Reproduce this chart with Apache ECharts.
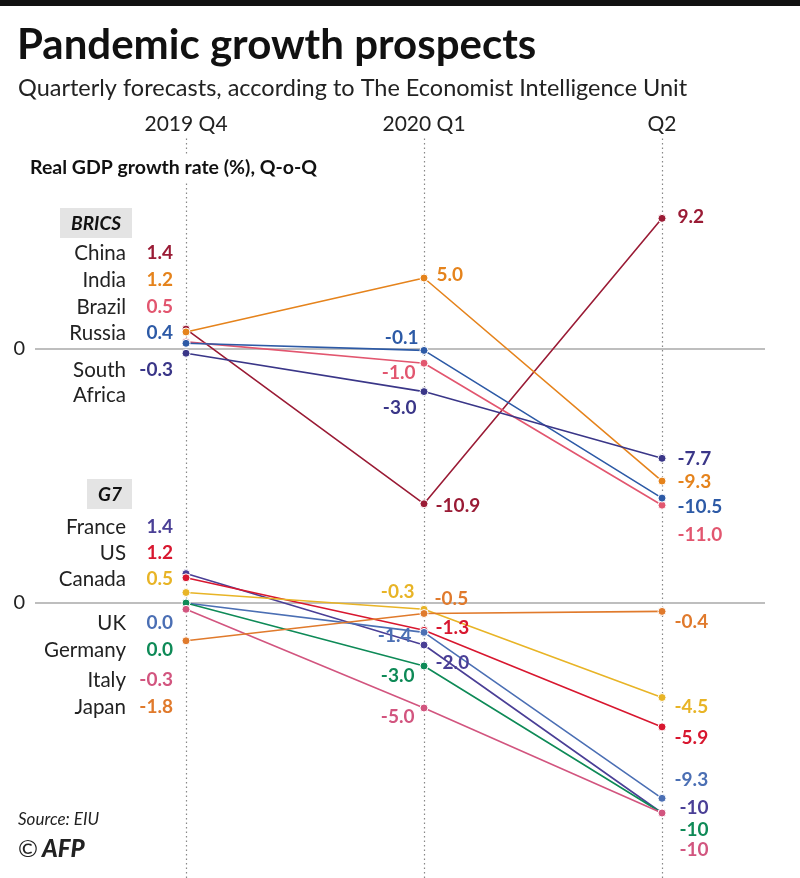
<!DOCTYPE html>
<html>
<head>
<meta charset="utf-8">
<script src="https://cdn.jsdelivr.net/npm/echarts@6/dist/echarts.min.js"></script>
<style>
  html, body { margin: 0; padding: 0; background: #fff; }
  #main { width: 800px; height: 878px; }
</style>
</head>
<body>
<div id="main"></div>
<script>
// 季度
var quarters = ['2019 Q4', '2020 Q1', 'Q2'];

// BRICS 数据 (2019 Q4, 2020 Q1, Q2)
var bricsNames = ['China', 'India', 'Brazil', 'Russia', 'South\nAfrica'];
var china = [1.4, -10.9, 9.2];
var india = [1.2, 5.0, -9.3];
var brazil = [0.5, -1.0, -11.0];
var russia = [0.4, -0.1, -10.5];
var southAfrica = [-0.3, -3.0, -7.7];

// G7 数据
var g7Names = ['France', 'US', 'Canada', 'UK', 'Germany', 'Italy', 'Japan'];
var france = [1.4, -2.0, -10];
var us = [1.2, -1.3, -5.9];
var canada = [0.5, -0.3, -4.5];
var uk = [0.0, -1.4, -9.3];
var germany = [0.0, -3.0, -10];
var italy = [-0.3, -5.0, -10];
var japan = [-1.8, -0.5, -0.4];

var bricsValues = [china, india, brazil, russia, southAfrica];
var g7Values = [france, us, canada, uk, germany, italy, japan];

// 颜色
var bricsColors = ['#9a1b35', '#e5831c', '#e2566f', '#2d5aa6', '#3a3688'];
var g7Colors = ['#4a3f96', '#d8172f', '#e8b426', '#4b6fb4', '#0e8a57', '#d2557f', '#e07a2c'];

// 标签位置 [Q1, Q2]: [side, dx, dy]
var bricsSpots = [
    [['right', 2, 2], ['right', 6, -1]],
    [['right', 3, -3], ['right', 6, 1]],
    [['left', 1, 10], ['right', 6, 30]],
    [['left', 4, -13], ['right', 6, 9]],
    [['left', 2, 16], ['right', 6, 1]]
];
var g7Spots = [
    [['right', 2, 18], ['right', 8, -5]],
    [['right', 2, -2], ['right', 3, 11]],
    [['left', 0, -17], ['right', 3, 9]],
    [['left', -3, 3], ['right', 3, -18]],
    [['left', 0, 10], ['right', 8, 17]],
    [['left', 0, 9], ['right', 8, 37]],
    [['right', 1, -15], ['right', 3, 10]]
];

// 左侧文字的纵向位置
var bricsRowY = [253, 280, 307, 333, 370];
var g7RowY = [527, 553, 579, 623, 650, 680, 707];

var FONT = 'Lato, sans-serif';
var X_MIN = -0.6345, X_MAX = 2.4327;

function fmt(v, panel) {
    if (panel === 'g7' && Math.abs(v) >= 10) {
        return String(Math.round(v));
    }
    return v.toFixed(1);
}

function makeSeries(name, vals, color, idx, spots, panel) {
    return {
        type: 'line',
        name: name,
        xAxisIndex: idx,
        yAxisIndex: idx,
        data: vals.map(function (v, i) {
            var item = { value: [i, v] };
            if (i > 0) {
                var s = spots[i - 1];
                item.label = { show: true, position: s[0], offset: [s[1], s[2]] };
            }
            return item;
        }),
        symbol: 'circle',
        symbolSize: 8,
        color: color,
        lineStyle: { width: 1.6, color: color },
        itemStyle: { color: color, borderColor: '#fff', borderWidth: 1 },
        label: {
            show: false,
            fontFamily: FONT,
            fontWeight: 'bold',
            fontSize: 19,
            color: color,
            formatter: function (p) { return fmt(p.value[1], panel); }
        },
        emphasis: { disabled: true },
        z: 5
    };
}

function zeroLine(idx) {
    return {
        type: 'line',
        xAxisIndex: idx,
        yAxisIndex: idx,
        data: [],
        markLine: {
            silent: true,
            symbol: 'none',
            lineStyle: { color: '#a8a8a8', width: 1.5, type: 'solid' },
            label: { position: 'start', distance: 10, formatter: '0', fontFamily: FONT, fontSize: 20, color: '#222' },
            data: [{ yAxis: 0 }]
        },
        z: 1
    };
}

var series = [];

// 竖向虚线 + 季度标题
series.push({
    type: 'line',
    xAxisIndex: 2,
    yAxisIndex: 2,
    data: [],
    markLine: {
        silent: true,
        symbol: 'none',
        lineStyle: { color: '#888', width: 1.2, type: [1.5, 3] },
        label: {
            position: 'end',
            distance: 3,
            fontFamily: FONT,
            fontSize: 21,
            color: '#222',
            formatter: function (p) { return p.name; }
        },
        data: quarters.map(function (q, i) { return { xAxis: i, name: q }; })
    },
    z: 1
});
series.push(zeroLine(0));
series.push(zeroLine(1));

bricsNames.forEach(function (n, i) {
    series.push(makeSeries(n, bricsValues[i], bricsColors[i], 0, bricsSpots[i], 'brics'));
});
g7Names.forEach(function (n, i) {
    series.push(makeSeries(n, g7Values[i], g7Colors[i], 1, g7Spots[i], 'g7'));
});

// 标题、注释和左侧国家名
var graphics = [
    { type: 'rect', shape: { x: 0, y: 0, width: 800, height: 6 }, style: { fill: '#111' } },
    { type: 'text', x: 17, y: 45, style: { text: 'Pandemic growth prospects', font: 'bold 42px ' + FONT, fill: '#111', verticalAlign: 'middle' } },
    { type: 'text', x: 18, y: 88, style: { text: 'Quarterly forecasts, according to The Economist Intelligence Unit', font: '23.5px ' + FONT, fill: '#222', verticalAlign: 'middle' } },
    { type: 'text', x: 28, y: 168, z: 100, style: { text: 'Real GDP growth rate (%), Q-o-Q', font: 'bold 19.5px ' + FONT, fill: '#111', verticalAlign: 'middle', backgroundColor: '#fff', padding: [4, 2] } },
    { type: 'rect', shape: { x: 60, y: 208, width: 72, height: 30 }, style: { fill: '#e4e4e4' } },
    { type: 'text', x: 96, y: 224, style: { text: 'BRICS', font: 'italic bold 19px ' + FONT, fill: '#111', align: 'center', verticalAlign: 'middle' } },
    { type: 'rect', shape: { x: 87, y: 479, width: 45, height: 30 }, style: { fill: '#e4e4e4' } },
    { type: 'text', x: 110, y: 495, style: { text: 'G7', font: 'italic bold 19px ' + FONT, fill: '#111', align: 'center', verticalAlign: 'middle' } },
    { type: 'text', x: 18, y: 820, style: { text: 'Source: EIU', font: 'italic 17px ' + FONT, fill: '#222', verticalAlign: 'middle' } },
    { type: 'text', x: 18, y: 849, style: { text: '©', font: '24px ' + FONT, fill: '#222', verticalAlign: 'middle' } },
    { type: 'text', x: 42, y: 849, style: { text: 'AFP', font: 'italic 900 24px ' + FONT, fill: '#222', verticalAlign: 'middle' } }
];

function addRows(names, values, colors, rowY) {
    names.forEach(function (n, i) {
        graphics.push({
            type: 'text', x: 126, y: rowY[i] - 12,
            style: { text: n, font: '20.5px ' + FONT, fill: '#222', align: 'right', verticalAlign: 'top', lineHeight: 25 }
        });
        graphics.push({
            type: 'text', x: 173, y: rowY[i],
            style: { text: values[i][0].toFixed(1), font: 'bold 19px ' + FONT, fill: colors[i], align: 'right', verticalAlign: 'middle' }
        });
    });
}
addRows(bricsNames, bricsValues, bricsColors, bricsRowY);
addRows(g7Names, g7Values, g7Colors, g7RowY);

function xAxis(idx) {
    return { gridIndex: idx, type: 'value', min: X_MIN, max: X_MAX, show: false };
}

var chart = echarts.init(document.getElementById('main'));
var option = {
    backgroundColor: '#fff',
    animation: false,
    textStyle: { fontFamily: FONT },
    grid: [
        { left: 35, right: 35, top: 207, height: 312.4 },
        { left: 35, right: 35, top: 561, height: 273 },
        { left: 35, right: 35, top: 138, bottom: 0 }
    ],
    xAxis: [xAxis(0), xAxis(1), xAxis(2)],
    yAxis: [
        { gridIndex: 0, type: 'value', min: -12, max: 10, show: false },
        { gridIndex: 1, type: 'value', min: -11, max: 2, show: false },
        { gridIndex: 2, type: 'value', min: 0, max: 1, show: false }
    ],
    graphic: graphics,
    series: series
};
chart.setOption(option);
</script>
</body>
</html>
